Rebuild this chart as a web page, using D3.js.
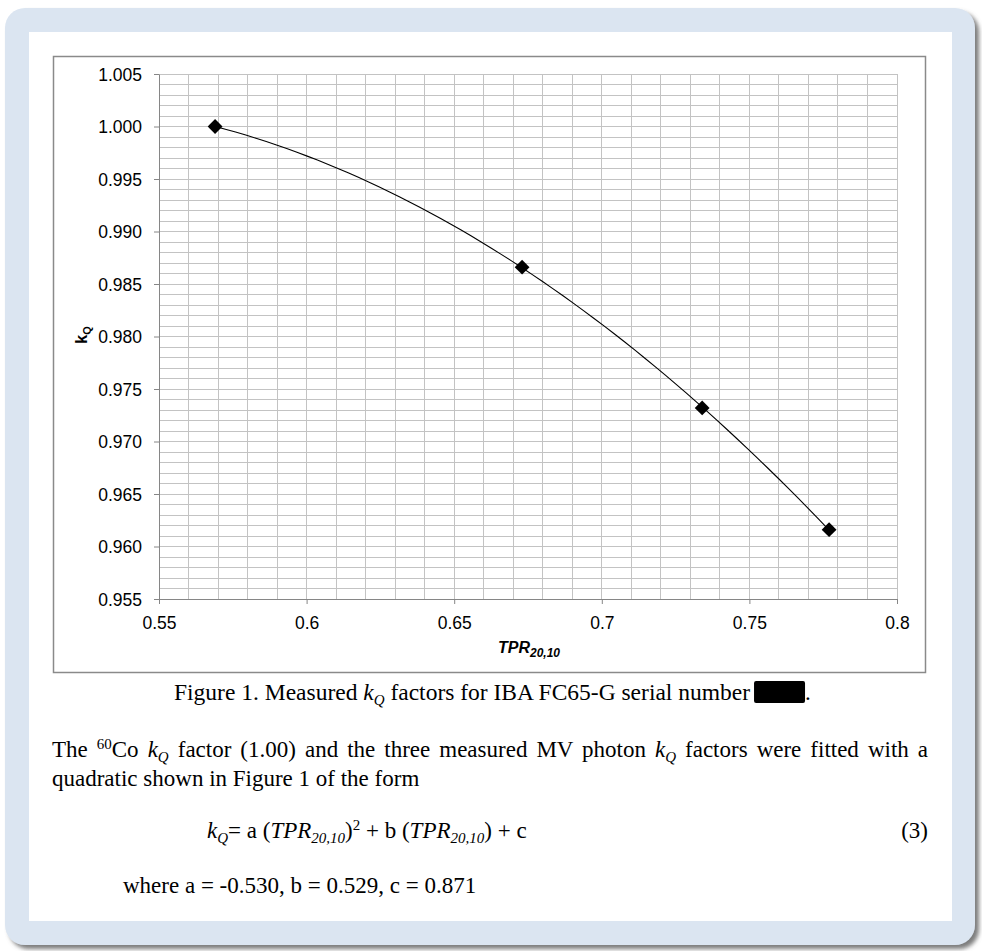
<!DOCTYPE html>
<html lang="en">
<head>
  <meta charset="UTF-8">
  <title>Measured kQ factors</title>
  <script src="https://d3js.org/d3.v7.min.js"></script>
  <style>
    body { margin: 0; background: #fff; }
    .tick text { font-family: "Liberation Sans", Arial, sans-serif; font-size: 17.5px; fill: #000; }
    .doc { font-family: "Liberation Serif", "Times New Roman", serif; font-size: 23px; fill: #000; }
  </style>
</head>
<body>
  <svg width="982" height="951"></svg>

  <script>
    // measured points (TPR20,10 vs kQ)
    const tprValues = [0.569, 0.673, 0.734, 0.777];
    const kqValues = [1.000, 0.9866, 0.9732, 0.9616];

    const xTickValues = [0.55, 0.6, 0.65, 0.7, 0.75, 0.8];
    const xTickLabels = ["0.55", "0.6", "0.65", "0.7", "0.75", "0.8"];
    const yTickValues = [0.955, 0.960, 0.965, 0.970, 0.975, 0.980, 0.985, 0.990, 0.995, 1.000, 1.005];
    const yTickLabels = ["0.955", "0.960", "0.965", "0.970", "0.975", "0.980", "0.985", "0.990", "0.995", "1.000", "1.005"];

    const svg = d3.select("svg");

    // page frame
    const defs = svg.append("defs");
    const f = defs.append("filter").attr("id", "shadow")
      .attr("x", "-5%").attr("y", "-5%").attr("width", "110%").attr("height", "110%");
    f.append("feDropShadow").attr("dx", 4).attr("dy", 4).attr("stdDeviation", 2)
      .attr("flood-color", "#6e6e6e").attr("flood-opacity", 0.9);

    svg.append("rect")
      .attr("x", 5).attr("y", 8).attr("width", 970).attr("height", 937)
      .attr("rx", 20)
      .attr("fill", "#dbe5f1")
      .attr("filter", "url(#shadow)");

    svg.append("rect")
      .attr("x", 29).attr("y", 32).attr("width", 923).attr("height", 889)
      .attr("fill", "#fff");

    // chart area border
    svg.append("rect")
      .attr("x", 53.5).attr("y", 56.5).attr("width", 872).attr("height", 616)
      .attr("fill", "#fff")
      .attr("stroke", "#8a8a8a")
      .attr("stroke-width", 1.5);

    // Scales
    const x = d3.scaleLinear().domain([0.55, 0.8]).range([159, 897]);
    const y = d3.scaleLinear().domain([0.955, 1.005]).range([599, 74]);

    // Gridlines
    const grid = svg.append("g").attr("stroke", "#c3c3c3").attr("stroke-width", 1).attr("shape-rendering", "crispEdges");
    grid.selectAll(".vg")
      .data(d3.range(0, 26).map(i => 0.55 + i * 0.01))
      .enter().append("line")
      .attr("x1", d => x(d)).attr("x2", d => x(d))
      .attr("y1", y(1.005)).attr("y2", y(0.955));
    grid.selectAll(".hg")
      .data(d3.range(0, 51).map(i => 0.955 + i * 0.001))
      .enter().append("line")
      .attr("x1", x(0.55)).attr("x2", x(0.8))
      .attr("y1", d => y(d)).attr("y2", d => y(d));

    // Axes
    const xAxis = svg.append("g")
      .attr("transform", `translate(0,${y(0.955)})`)
      .call(d3.axisBottom(x)
        .tickValues(xTickValues)
        .tickFormat((d, i) => xTickLabels[i])
        .tickSize(5).tickSizeOuter(0).tickPadding(13));

    const yAxis = svg.append("g")
      .attr("transform", `translate(${x(0.55)},0)`)
      .call(d3.axisLeft(y)
        .tickValues(yTickValues)
        .tickFormat((d, i) => yTickLabels[i])
        .tickSize(5).tickSizeOuter(0).tickPadding(12));

    [xAxis, yAxis].forEach(a => {
      a.select(".domain").attr("stroke", "#868686");
      a.selectAll(".tick line").attr("stroke", "#868686");
      a.attr("font-family", null).attr("font-size", null);
    });
    yAxis.selectAll(".tick text").attr("dy", "0.36em");

    // Axis titles
    const xt = svg.append("text")
      .attr("x", 529).attr("y", 653)
      .attr("text-anchor", "middle")
      .attr("font-family", "Liberation Sans, Arial, sans-serif")
      .attr("font-weight", "bold").attr("font-style", "italic")
      .attr("font-size", 16);
    xt.append("tspan").text("TPR");
    xt.append("tspan").attr("dy", 4).attr("font-size", 12).text("20,10");

    const yt = svg.append("text")
      .attr("transform", "translate(87,335) rotate(-90)")
      .attr("text-anchor", "middle")
      .attr("font-family", "Liberation Sans, Arial, sans-serif")
      .attr("font-weight", "bold")
      .attr("font-size", 16);
    yt.append("tspan").text("k");
    yt.append("tspan").attr("dy", 4).attr("font-size", 11).text("Q");

    // quadratic trendline (least squares on the measured points)
    function quadFit(xs, ys) {
      const S = k => d3.sum(xs, v => Math.pow(v, k));
      const T = k => d3.sum(xs, (v, i) => Math.pow(v, k) * ys[i]);
      const M = [[S(4), S(3), S(2)], [S(3), S(2), S(1)], [S(2), S(1), xs.length]];
      const r = [T(2), T(1), T(0)];
      const det = m => m[0][0] * (m[1][1] * m[2][2] - m[1][2] * m[2][1])
        - m[0][1] * (m[1][0] * m[2][2] - m[1][2] * m[2][0])
        + m[0][2] * (m[1][0] * m[2][1] - m[1][1] * m[2][0]);
      const D = det(M);
      return [0, 1, 2].map(c => det(M.map((row, i) => row.map((v, j) => j === c ? r[i] : v))) / D);
    }
    const [qa, qb, qc] = quadFit(tprValues, kqValues);
    const trend = d3.range(0, 61)
      .map(i => d3.min(tprValues) + i * (d3.max(tprValues) - d3.min(tprValues)) / 60)
      .map(t => [t, qa * t * t + qb * t + qc]);

    const line = d3.line()
      .x(d => x(d[0]))
      .y(d => y(d[1]));

    svg.append("path")
      .datum(trend)
      .attr("d", line)
      .attr("fill", "none")
      .attr("stroke", "#000")
      .attr("stroke-width", 1.1);

    // diamond markers
    const pts = tprValues.map((v, i) => [v, kqValues[i]]);
    svg.selectAll(".pt")
      .data(pts)
      .enter().append("path")
      .attr("d", d3.symbol(d3.symbolSquare, 110))
      .attr("transform", d => `translate(${x(d[0])},${y(d[1])}) rotate(45)`)
      .attr("fill", "#000");

    // Document text with sub/superscripts
    function richText(parent, xPos, yPos, parts, anchor, size) {
      const t = parent.append("text")
        .attr("class", "doc")
        .attr("x", xPos).attr("y", yPos)
        .attr("text-anchor", anchor || "start");
      if (size) t.style("font-size", size + "px");
      let shift = 0;
      parts.forEach(p => {
        const s = typeof p === "string" ? { t: p } : p;
        let target = 0;
        if (s.sub) target = 5;
        if (s.sup) target = -8;
        const ts = t.append("tspan")
          .attr("dy", target - shift)
          .text(s.t);
        shift = target;
        if (s.sub || s.sup) ts.attr("font-size", 15);
        if (s.i) ts.attr("font-style", "italic");
      });
      return t;
    }

    const cap = richText(svg, 174, 700, [
      "Figure 1. Measured ",
      { t: "k", i: true }, { t: "Q", i: true, sub: true },
      " factors for IBA FC65-G serial number"
    ], "start", 23.5);
    const capEnd = 174 + cap.node().getComputedTextLength();
    svg.append("rect")
      .attr("x", capEnd + 4).attr("y", 681)
      .attr("width", 51).attr("height", 22)
      .attr("rx", 2)
      .attr("fill", "#000");
    svg.append("text").attr("class", "doc")
      .attr("x", capEnd + 55).attr("y", 700).text(".");

    // first paragraph line is justified to the right margin
    const l1 = richText(svg, 52, 757, [
      "The ", { t: "60", sup: true }, "Co ",
      { t: "k", i: true }, { t: "Q", i: true, sub: true },
      " factor (1.00) and the three measured MV photon ",
      { t: "k", i: true }, { t: "Q", i: true, sub: true },
      " factors were fitted with a"
    ]);
    const natural = l1.node().getComputedTextLength();
    const spaces = (l1.text().match(/ /g) || []).length;
    l1.attr("word-spacing", Math.max(0, (928 - 52 - natural) / spaces));

    richText(svg, 52, 786, ["quadratic shown in Figure 1 of the form"]);

    richText(svg, 207, 838, [
      { t: "k", i: true }, { t: "Q", i: true, sub: true },
      "= a (", { t: "TPR", i: true }, { t: "20,10", i: true, sub: true },
      ")", { t: "2", sup: true },
      " + b (", { t: "TPR", i: true }, { t: "20,10", i: true, sub: true },
      ") + c"
    ]);
    richText(svg, 928, 838, ["(3)"], "end");

    richText(svg, 123, 893, ["where a = -0.530, b = 0.529, c = 0.871"]);
  </script>
</body>
</html>
